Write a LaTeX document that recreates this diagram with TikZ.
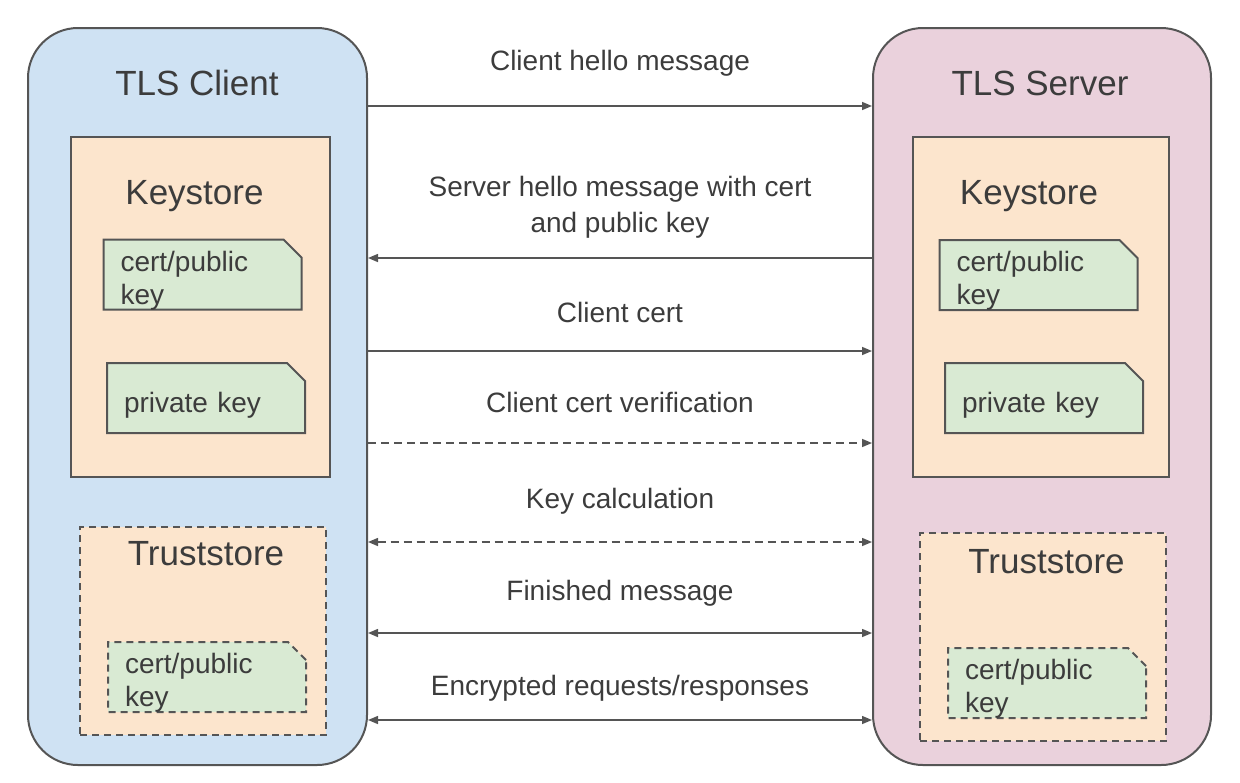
\documentclass[tikz,border=0pt]{standalone}
\usepackage{fontspec}
\setmainfont{Liberation Sans}
\usepackage{tikz}
\usetikzlibrary{arrows.meta,positioning,shapes.misc}

\definecolor{clientblue}{HTML}{CFE2F3}
\definecolor{serverpink}{HTML}{EAD1DC}
\definecolor{storeorange}{HTML}{FCE5CD}
\definecolor{keygreen}{HTML}{D9EAD3}
\definecolor{linegray}{HTML}{555555}
\definecolor{txtgray}{HTML}{3C3C3C}

\begin{document}
\begin{tikzpicture}[x=0.5pt,y=-0.5pt,>={Triangle[length=5pt,width=4pt]},
  party/.style={draw=linegray, line width=1pt, rounded corners=25pt, minimum height=368.5pt},
  store/.style={draw=linegray, line width=1pt, fill=storeorange},
  keybox/.style={chamfered rectangle, chamfered rectangle corners=north east,
    chamfered rectangle xsep=5.5pt, draw=linegray, line width=1pt, fill=keygreen,
    text=txtgray, text width=82pt, inner xsep=3pt, inner ysep=-2.5pt, minimum height=35pt, align=left,
    font=\fontsize{14}{16.5}\selectfont},
  title/.style={anchor=base, text=txtgray, font=\fontsize{17.5}{21}\selectfont},
  msg/.style={anchor=base, align=center, text=txtgray, font=\fontsize{14}{18}\selectfont},
  flow/.style={draw=linegray, line width=0.75pt},
  dashflow/.style={flow, dash pattern=on 4pt off 2.5pt}]
\useasboundingbox (0,0) rectangle (1240,782);

\node[party, fill=clientblue, minimum width=169.5pt, name=client] at (197.5,396.5) {};
\node[party, fill=serverpink, minimum width=169pt, name=server] at (1042,396.5) {};

\node[title, name=ctitle] at (197,95) {TLS Client};
\node[title, name=stitle] at (1040,95) {TLS Server};

% keystores
\node[store, minimum width=129.5pt, minimum height=170pt, name=cks] at (200.5,307) {};
\node[store, minimum width=128pt, minimum height=170pt, name=sks] at (1041,307) {};
\node[title, name=ckst] at (194.5,204) {Keystore};
\node[title, name=skst] at (1029,204) {Keystore};

\node[keybox, name=ccert] at (202.5,274.5) {\rule{0pt}{13pt}cert/public\\\smash{key}};
\node[keybox, name=cpriv] at (206,398) {\rule{0pt}{17pt}private key};
\node[keybox, name=scert] at (1038.5,275) {\rule{0pt}{13pt}cert/public\\\smash{key}};
\node[keybox, name=spriv] at (1044,398) {\rule{0pt}{17pt}private key};

% truststores
\node[store, dashed, dash pattern=on 3.5pt off 2.5pt, minimum width=123pt, minimum height=104pt, name=cts] at (203,631) {};
\node[store, dashed, dash pattern=on 3.5pt off 2.5pt, minimum width=123pt, minimum height=104pt, name=sts] at (1043,637) {};
\node[title, name=ctst] at (206,565) {Truststore};
\node[title, name=stst] at (1046.5,573) {Truststore};

\node[keybox, dash pattern=on 3.5pt off 2.5pt, name=ctcert] at (207,677) {\rule{0pt}{13pt}cert/public\\\smash{key}};
\node[keybox, dash pattern=on 3.5pt off 2.5pt, name=stcert] at (1047,683) {\rule{0pt}{13pt}cert/public\\\smash{key}};

% messages
\node[msg, name=m1] at (620,70) {Client hello message};
\node[msg, name=m2] at (620,232) {Server hello message with cert\\and public key};
\node[msg, name=m3] at (620,322) {Client cert};
\node[msg, name=m4] at (620,412) {Client cert verification};
\node[msg, name=m5] at (620,508) {Key calculation};
\node[msg, name=m6] at (620,600) {Finished message};
\node[msg, name=m7] at (620,695) {Encrypted requests/responses};

\coordinate (a1) at (620,106);
\coordinate (a2) at (620,258);
\coordinate (a3) at (620,351);
\coordinate (a4) at (620,443);
\coordinate (a5) at (620,542);
\coordinate (a6) at (620,633);
\coordinate (a7) at (620,720);

\draw[flow,->] (client.east |- a1) -- (server.west |- a1);
\draw[flow,<-] (client.east |- a2) -- (server.west |- a2);
\draw[flow,->] (client.east |- a3) -- (server.west |- a3);
\draw[dashflow,->] (client.east |- a4) -- (server.west |- a4);
\draw[dashflow,<->] (client.east |- a5) -- (server.west |- a5);
\draw[flow,<->] (client.east |- a6) -- (server.west |- a6);
\draw[flow,<->] (client.east |- a7) -- (server.west |- a7);
\end{tikzpicture}
\end{document}
